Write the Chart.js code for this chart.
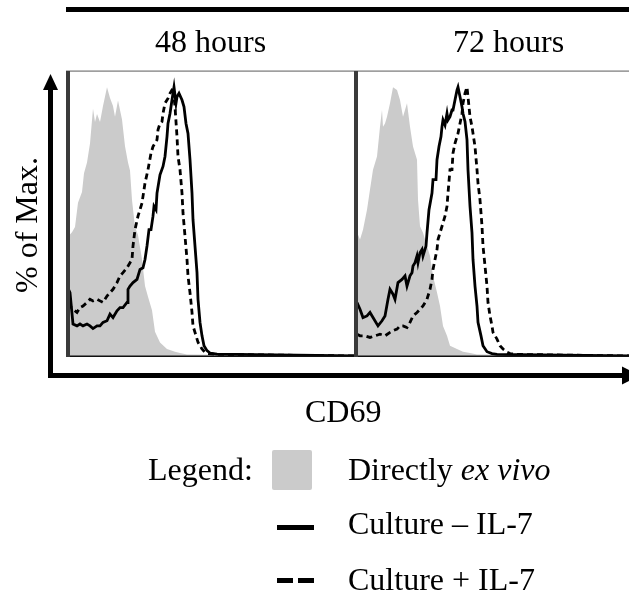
<!DOCTYPE html>
<html>
<head>
<meta charset="utf-8">
<script src="https://cdn.jsdelivr.net/npm/chart.js@4"></script>
<style>
  html, body { margin: 0; padding: 0; background: #fff; }
  #wrap { position: relative; width: 629px; height: 600px; overflow: hidden; }
  canvas { position: absolute; top: 71px; }
  #c48 { left: 67px; }
  #c72 { left: 357px; }
  svg { position: absolute; left: 0; top: 0; pointer-events: none; }
  text { font-family: "Liberation Serif", "Times New Roman", serif; font-size: 32px; fill: #000; }
</style>
</head>
<body>
<div id="wrap">
  <canvas id="c48" width="289" height="285"></canvas>
  <canvas id="c72" width="272" height="285"></canvas>
  <svg width="629" height="600">
    <!-- top bar + headers -->
    <rect x="66" y="7" width="563" height="5" fill="#000"/>
    <text x="155" y="52">48 hours</text>
    <text x="453" y="52">72 hours</text>
    <!-- panel frames -->
    <rect x="66" y="70.5" width="563" height="1.2" fill="#777"/>
    <rect x="66" y="355.5" width="563" height="1.5" fill="#111"/>
    <rect x="66" y="71" width="4" height="286" fill="#3a3a3a"/>
    <rect x="354" y="71" width="4" height="286" fill="#3a3a3a"/>
    <!-- axis arrows -->
    <rect x="48" y="86" width="5" height="292" fill="#000"/>
    <polygon points="50.5,74 43,90 58,90" fill="#000"/>
    <rect x="48" y="373" width="578" height="5" fill="#000"/>
    <polygon points="622,366.5 640,375.5 622,384.5" fill="#000"/>
    <text transform="translate(37,225) rotate(-90)" text-anchor="middle">% of Max.</text>
    <text x="305" y="422">CD69</text>
    <!-- legend -->
    <text x="148" y="480">Legend:</text>
    <rect x="272" y="450" width="40" height="40" rx="2" fill="#cbcbcb"/>
    <text x="348" y="480">Directly <tspan font-style="italic">ex vivo</tspan></text>
    <rect x="277" y="525" width="37" height="5" fill="#000"/>
    <text x="348" y="534">Culture – IL-7</text>
    <rect x="277" y="578" width="16" height="5" fill="#000"/>
    <rect x="298" y="578" width="16" height="5" fill="#000"/>
    <text x="348" y="590">Culture + IL-7</text>
  </svg>
</div>
<script>
// CD69 channel (x) and % of max (y)

// 48 hours
var h48_exvivo_x = [0,5,8,11,15,17,20,23,26,28,30,33,36,40,43,46,48,51,55,58,61,63,65,68,71,75,78,81,85,88,93,100,108,113,120,289];
var h48_exvivo_y = [44,46,48,57,61,68,72,79,92,87,90,87,93,100,96,93,89,95,88,78,72,69,58,48,45,36,26,22,17,9,5,2.6,1.6,1.1,0.6,0];

var h48_noil7_x = [0,3,6,10,13,16,20,23,26,30,33,36,40,43,46,50,53,56,60,61,63,66,70,73,76,78,80,82,84,86,87,89,90,93,96,98,100,101,103,105,106,107,109,110,112,115,117,119,121,123,125,126,128,130,131,133,135,137,140,143,150,289];
var h48_noil7_y = [26,23.6,11.9,11.2,11.9,11.2,11.9,11.2,10.2,11.2,11.2,12.5,13.1,15.6,14.3,16.8,18,18,19.9,24.8,26,27.3,28.5,32.2,32.8,35.9,40.9,47,47,52,55.7,54.4,60.6,67.4,70.5,74.2,81.6,86.5,90.2,95.2,97.7,100,94,96.4,97.7,95.2,92.7,86.5,82.8,73,60.6,50.7,40.9,31,21.1,12.5,7.5,3.8,2,1.1,0.7,0];

var h48_il7_x = [0,3,6,10,13,16,20,23,26,30,33,36,40,43,46,50,53,56,60,63,65,66,68,71,75,78,81,84,86,90,91,93,95,96,98,100,101,103,105,106,108,110,111,113,115,116,118,120,121,123,125,126,128,131,135,138,141,150,289];
var h48_il7_y = [18,18.6,17.4,16.2,18,18.6,19.9,21.1,20.5,21.1,20.5,19.9,22.3,23.6,24.8,27.3,29.8,31,32.8,34.7,35.9,40.9,47,52,56.9,64.3,69.3,75.4,77.9,80.4,84.1,86.5,87.2,90.2,94,95.2,95.8,97.7,98.9,100,92.7,81.6,74.2,69.3,60.6,53.2,44.6,35.9,29.8,23.6,16.2,11.2,8.8,5.1,2.6,1.4,0.9,0.6,0];

// 72 hours
var h72_exvivo_x = [0,3,6,10,13,16,20,23,25,26,28,30,33,36,40,43,46,50,53,56,60,61,63,66,70,73,76,80,83,86,90,93,100,106,113,120,272];
var h72_exvivo_y = [46,43.3,47,54.4,61.9,69.3,74.2,85.3,91.5,85.3,86.5,89,94,100,98.9,95.2,89,94,85.3,77.9,73,58.1,48.3,45.8,40.9,37.2,29.8,23.6,18.6,11.2,7.5,3.8,2.6,1.6,1.1,0.6,0];

var h72_noil7_x = [0,3,6,10,13,16,21,25,28,31,33,36,38,41,45,48,50,53,55,56,58,60,61,63,65,66,69,70,72,75,76,79,80,82,84,85,86,88,90,91,93,95,96,98,100,101,103,105,106,108,110,111,113,115,116,118,120,121,124,126,130,135,140,272];
var h72_noil7_y = [19.9,17.4,14.3,14.9,16.2,14.3,11.2,13.1,14.9,21.1,24.8,23,21.1,27.3,28.5,29.8,26,29.8,31,33.5,34.7,37.2,34.7,38.4,39.6,37.2,40.9,45.8,54.4,60.6,65.6,65.6,73,77.9,81.6,85.3,87.8,85.9,90.2,87.8,89,91.5,91.5,95.2,98.9,100,96.4,92.7,90.2,87.2,80.4,69.3,55.7,45.8,35.9,26,18.6,12.5,7.5,3.8,1.6,0.9,0.6,0];

var h72_il7_x = [0,3,8,13,18,23,28,33,36,40,43,46,50,53,56,60,63,66,70,73,75,76,78,80,81,83,86,88,90,91,93,95,96,98,100,101,103,105,106,108,110,111,113,115,116,118,120,121,123,125,126,128,130,131,133,135,136,140,143,146,150,153,160,272];
var h72_il7_y = [8.1,7.5,7.5,6.9,7.5,8.1,7.5,8.8,9.4,10,11.2,11.2,10.6,12.5,14.9,16.2,17.4,18.6,21.1,24.8,28.5,32.2,35.9,39.6,43.3,45.8,49.5,52,55.7,60.6,69.3,69.3,75.4,79.1,81.6,82.8,86.5,90.2,94,97.7,100,96.4,89,85.3,82.8,77.9,69.3,64.3,58.1,48.3,40.9,33.5,26,19.9,14.9,11.2,8.8,6.3,3.8,2.6,1.4,0.9,0.6,0];

function pts(xs, ys) {
  return xs.map(function (x, i) { return { x: x, y: ys[i] }; });
}

function makePanel(id, xmax, exvivo, noil7, il7) {
  var ctx = document.getElementById(id).getContext("2d");
  return new Chart(ctx, {
    type: "line",
    data: {
      datasets: [
        {
          label: "Culture + IL-7",
          data: il7,
          borderColor: "#000",
          borderWidth: 2.8,
          borderDash: [6, 4],
          fill: false,
          order: 0
        },
        {
          label: "Culture – IL-7",
          data: noil7,
          borderColor: "#000",
          borderWidth: 2.8,
          fill: false,
          order: 1
        },
        {
          label: "Directly ex vivo",
          data: exvivo,
          borderWidth: 0,
          borderColor: "rgba(0,0,0,0)",
          backgroundColor: "#cbcbcb",
          fill: "origin",
          order: 2
        }
      ]
    },
    options: {
      responsive: false,
      animation: false,
      layout: { padding: 0 },
      elements: { point: { radius: 0 }, line: { tension: 0 } },
      plugins: { legend: { display: false }, tooltip: { enabled: false } },
      scales: {
        x: { type: "linear", min: 0, max: xmax, display: false },
        y: { min: 0, max: 106, display: false }
      }
    }
  });
}

makePanel("c48", 289, pts(h48_exvivo_x, h48_exvivo_y), pts(h48_noil7_x, h48_noil7_y), pts(h48_il7_x, h48_il7_y));
makePanel("c72", 272, pts(h72_exvivo_x, h72_exvivo_y), pts(h72_noil7_x, h72_noil7_y), pts(h72_il7_x, h72_il7_y));
</script>
</body>
</html>
